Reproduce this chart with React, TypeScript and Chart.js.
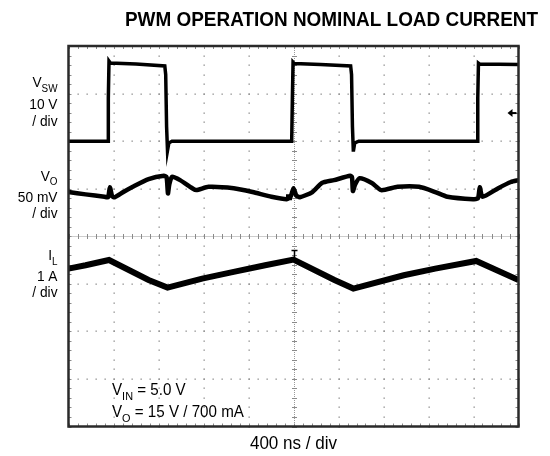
import React, { useEffect, useRef } from "react";
import { Chart, registerables } from "chart.js";

Chart.register(...registerables);

// ---- Data (time in divisions of 400 ns, level in screen divisions) ----
const timeDivisions = 10;
const levelDivisions = 8;

const vswTime = [0, 0.88, 0.885, 0.9, 0.93, 1.5, 2.14, 2.16, 2.18, 2.2, 2.23, 2.3, 3.5, 4.96, 4.975, 4.99, 5.02, 5.6, 6.27, 6.29, 6.31, 6.33, 6.36, 6.45, 7.8, 9.08, 9.095, 9.11, 9.14, 10];
const vswLevel = [6.0, 6.0, 6.9, 7.68, 7.64, 7.62, 7.58, 7.4, 6.3, 5.8, 5.96, 6.0, 6.0, 6.0, 6.9, 7.66, 7.63, 7.61, 7.58, 7.4, 6.3, 5.78, 5.96, 6.0, 6.0, 6.0, 6.9, 7.64, 7.62, 7.61];

const voTime = [0, 0.38, 0.8, 0.88, 0.92, 0.97, 1.03, 1.22, 1.43, 1.78, 2.12, 2.18, 2.21, 2.24, 2.3, 2.48, 2.75, 2.84, 3.11, 3.67, 4.09, 4.51, 4.85, 4.94, 5.0, 5.06, 5.14, 5.42, 5.63, 5.9, 6.26, 6.3, 6.32, 6.37, 6.47, 6.74, 6.95, 7.31, 7.79, 8.15, 8.42, 8.99, 9.1, 9.14, 9.2, 9.55, 9.83, 10];
const voLevel = [4.93, 4.88, 4.83, 4.82, 5.03, 4.84, 4.82, 4.93, 5.04, 5.2, 5.27, 5.24, 4.9, 5.09, 5.25, 5.18, 5.01, 4.97, 5.04, 5.01, 4.93, 4.83, 4.78, 4.84, 5.01, 4.86, 4.82, 4.93, 5.12, 5.18, 5.27, 5.24, 4.95, 5.09, 5.22, 5.12, 4.97, 5.04, 5.04, 4.93, 4.83, 4.78, 4.8, 5.03, 4.83, 5.01, 5.14, 5.18];

const ilTime = [0, 0.38, 0.9, 1.78, 2.2, 2.97, 3.67, 4.37, 5.0, 5.91, 6.33, 7.45, 8.15, 9.06, 10];
const ilLevel = [3.32, 3.39, 3.5, 3.08, 2.92, 3.11, 3.25, 3.39, 3.51, 3.08, 2.9, 3.18, 3.32, 3.48, 3.08];

// screen markers: level arrow, trigger marker on IL, ground box on VO
const levelMarker = { x: 10, y: 6.59 };
const triggerMarker = { x: 5, y: 3.51 };
const groundMarker = { x: 4.9, y: 4.82 };

const titleText = "PWM OPERATION NOMINAL LOAD CURRENT";
const timeLabel = "400 ns / div";
const channelNames = [["V", "SW"], ["V", "O"], ["I", "L"]];
const channelScales = [["10 V", "/ div"], ["50 mV", "/ div"], ["1 A", "/ div"]];
const channelBaselines = [[86.7, 109.3, 125.5], [180.5, 202, 217.5], [260, 280.5, 296.5]];
const noteLines = [["V", "IN", " = 5.0 V"], ["V", "O", " = 15 V / 700 mA"]];

const FONT = "'Liberation Sans', Arial, Helvetica, sans-serif";
const SX = 0.947; // horizontal squeeze of the original figure's lettering

function pairs(xs: number[], ys: number[]) {
  return xs.map((x, i) => ({ x, y: ys[i] }));
}

function textW(ctx: CanvasRenderingContext2D, s: string, font: string) {
  ctx.font = font;
  return ctx.measureText(s).width * SX;
}

function put(ctx: CanvasRenderingContext2D, s: string, x: number, y: number, font: string) {
  ctx.save();
  ctx.font = font;
  ctx.textAlign = "left";
  ctx.textBaseline = "alphabetic";
  ctx.translate(x, y);
  ctx.scale(SX, 1);
  ctx.fillText(s, 0, 0);
  ctx.restore();
}

function putAligned(ctx: CanvasRenderingContext2D, s: string, x: number, y: number, font: string, align: "left" | "right" | "center") {
  const w = textW(ctx, s, font);
  const left = align === "left" ? x : align === "right" ? x - w : x - w / 2;
  put(ctx, s, left, y, font);
}

function drawSub(ctx: CanvasRenderingContext2D, main: string, sub: string, rest: string, x: number, baseline: number, size: number, align: "left" | "right") {
  const fMain = `${size}px ${FONT}`;
  const fSub = `${size * 0.72}px ${FONT}`;
  const wMain = textW(ctx, main, fMain);
  const wSub = textW(ctx, sub, fSub);
  const wRest = textW(ctx, rest, fMain);
  const total = wMain + wSub + wRest;
  const left = align === "right" ? x - total : x;
  put(ctx, main, left, baseline, fMain);
  put(ctx, sub, left + wMain, baseline + size * 0.34, fSub);
  if (rest) put(ctx, rest, left + wMain + wSub, baseline, fMain);
}

const scopePlugin = {
  id: "scope",
  beforeDatasetsDraw(chart: any) {
    const ctx: CanvasRenderingContext2D = chart.ctx;
    const xs = chart.scales.x;
    const ys = chart.scales.y;
    const a = chart.chartArea;
    ctx.save();
    ctx.fillStyle = "#8a8a8a";
    for (let i = 1; i < timeDivisions; i++) {
      if (i === 5) continue;
      const px = Math.round(xs.getPixelForValue(i));
      for (let k = 0; k <= levelDivisions * 5; k++) {
        const py = Math.round(ys.getPixelForValue(k / 5));
        ctx.fillRect(px - 0.5, py - 0.5, 1.3, 1.3);
      }
    }
    for (let j = 1; j < levelDivisions; j++) {
      if (j === 4) continue;
      const py = Math.round(ys.getPixelForValue(j));
      for (let k = 0; k <= timeDivisions * 5; k++) {
        const px = Math.round(xs.getPixelForValue(k / 5));
        ctx.fillRect(px - 0.5, py - 0.5, 1.3, 1.3);
      }
    }
    const cx = Math.round(xs.getPixelForValue(5));
    const cy = Math.round(ys.getPixelForValue(4));
    ctx.strokeStyle = "#9a9a9a";
    ctx.lineWidth = 1;
    ctx.setLineDash([1, 1]);
    ctx.beginPath();
    ctx.moveTo(cx + 0.5, a.top);
    ctx.lineTo(cx + 0.5, a.bottom);
    ctx.moveTo(a.left, cy + 0.5);
    ctx.lineTo(a.right, cy + 0.5);
    ctx.stroke();
    ctx.setLineDash([]);
    ctx.strokeStyle = "#8a8a8a";
    ctx.beginPath();
    for (let k = 0; k <= timeDivisions * 5; k++) {
      const px = Math.round(xs.getPixelForValue(k / 5)) + 0.5;
      ctx.moveTo(px, cy - 2);
      ctx.lineTo(px, cy + 3);
      ctx.moveTo(px, a.top);
      ctx.lineTo(px, a.top + 3);
      ctx.moveTo(px, a.bottom);
      ctx.lineTo(px, a.bottom - 3);
    }
    for (let k = 0; k <= levelDivisions * 5; k++) {
      const py = Math.round(ys.getPixelForValue(k / 5)) + 0.5;
      ctx.moveTo(cx - 2, py);
      ctx.lineTo(cx + 3, py);
      ctx.moveTo(a.left, py);
      ctx.lineTo(a.left + 3, py);
      ctx.moveTo(a.right, py);
      ctx.lineTo(a.right - 3, py);
    }
    ctx.stroke();
    ctx.restore();
  },
  afterDatasetsDraw(chart: any) {
    const ctx: CanvasRenderingContext2D = chart.ctx;
    const a = chart.chartArea;
    const xs = chart.scales.x;
    const ys = chart.scales.y;
    ctx.save();
    ctx.strokeStyle = "#2a2a2a";
    ctx.lineWidth = 2.5;
    ctx.strokeRect(a.left, a.top, a.right - a.left, a.bottom - a.top);
    // level arrow at right edge
    const my = ys.getPixelForValue(levelMarker.y);
    const mx = xs.getPixelForValue(levelMarker.x) - 2;
    ctx.fillStyle = "#000";
    ctx.beginPath();
    ctx.moveTo(mx - 9, my);
    ctx.lineTo(mx - 4, my - 4);
    ctx.lineTo(mx - 4, my + 4);
    ctx.closePath();
    ctx.fill();
    ctx.fillRect(mx - 5, my - 1, 5, 2);
    // trigger marker above IL peak
    const tx = Math.round(xs.getPixelForValue(triggerMarker.x)) + 0.5;
    const ty = ys.getPixelForValue(triggerMarker.y);
    ctx.strokeStyle = "#000";
    ctx.lineWidth = 1.5;
    ctx.beginPath();
    ctx.moveTo(tx, ty - 2);
    ctx.lineTo(tx, ty - 9);
    ctx.moveTo(tx - 3, ty - 9);
    ctx.lineTo(tx + 3, ty - 9);
    ctx.stroke();
    // ground box on VO
    const gx = xs.getPixelForValue(groundMarker.x);
    const gy = ys.getPixelForValue(groundMarker.y);
    ctx.fillRect(gx - 3, gy - 3, 6, 6);
    // texts
    ctx.fillStyle = "#000";
    putAligned(ctx, titleText, 331.5, 25.5, `bold 20px ${FONT}`, "center");
    putAligned(ctx, timeLabel, xs.getPixelForValue(5), 449, `18px ${FONT}`, "center");
    for (let c = 0; c < 3; c++) {
      drawSub(ctx, channelNames[c][0], channelNames[c][1], "", 57.5, channelBaselines[c][0], 14.5, "right");
      putAligned(ctx, channelScales[c][0], 57.5, channelBaselines[c][1], `14.5px ${FONT}`, "right");
      putAligned(ctx, channelScales[c][1], 57.5, channelBaselines[c][2], `14.5px ${FONT}`, "right");
    }
    drawSub(ctx, noteLines[0][0], noteLines[0][1], noteLines[0][2], 112, 395, 16, "left");
    drawSub(ctx, noteLines[1][0], noteLines[1][1], noteLines[1][2], 112, 417, 16, "left");
    ctx.restore();
  },
};

export default function App() {
  const ref = useRef<HTMLCanvasElement | null>(null);
  useEffect(() => {
    if (!ref.current) return;
    const chart = new Chart(ref.current, {
      type: "line",
      data: {
        datasets: [
          { label: "VSW", data: pairs(vswTime, vswLevel), borderColor: "#000", borderWidth: 3.5, pointRadius: 0, tension: 0 },
          { label: "VO", data: pairs(voTime, voLevel), borderColor: "#000", borderWidth: 4.5, pointRadius: 0, tension: 0.2 },
          { label: "IL", data: pairs(ilTime, ilLevel), borderColor: "#000", borderWidth: 6, pointRadius: 0, tension: 0 },
        ],
      },
      options: {
        responsive: false,
        animation: false,
        parsing: false as any,
        layout: { padding: { left: 68.5, right: 31.5, top: 46, bottom: 29.5 } },
        plugins: { legend: { display: false }, tooltip: { enabled: false }, title: { display: false } },
        scales: {
          x: { type: "linear", min: 0, max: timeDivisions, display: false },
          y: { type: "linear", min: 0, max: levelDivisions, display: false },
        },
      },
      plugins: [scopePlugin],
    });
    return () => chart.destroy();
  }, []);
  return (
    <div style={{ position: "absolute", left: 0, top: 0, width: 550, height: 456, background: "#fff" }}>
      <canvas ref={ref} width={550} height={456} style={{ width: 550, height: 456 }} />
    </div>
  );
}
